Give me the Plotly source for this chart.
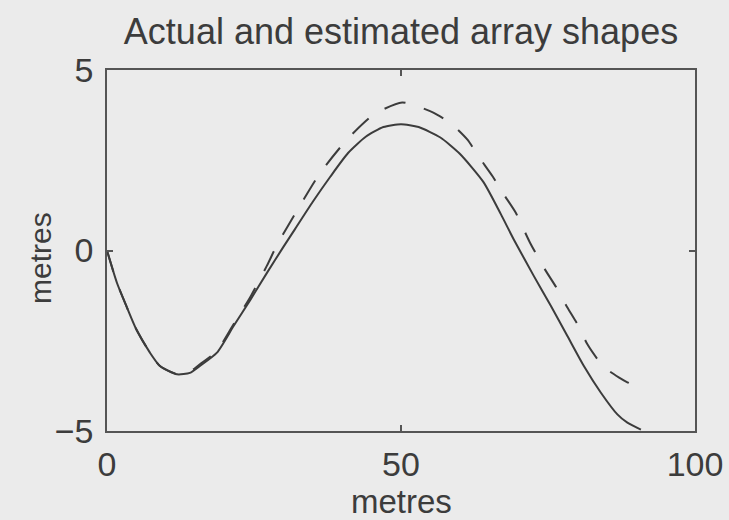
import plotly.graph_objects as go

# Actual array shape (solid)
actual_x = [0, 1.7, 3.3, 5, 7.3, 9, 11.9, 14.1, 15.8, 18.7, 21.5, 24.4, 27.2, 30, 32, 35, 38, 41,
            44, 47, 50, 53, 56.7, 60, 64, 67, 69.2, 72.6, 75.5, 78.3, 81.1, 84, 86.8, 88.5, 90.8]
actual_y = [0, -0.9, -1.54, -2.19, -2.83, -3.2, -3.43, -3.39, -3.2, -2.83, -2.1, -1.36, -0.62, 0.1,
            0.6, 1.35, 2.05, 2.7, 3.15, 3.42, 3.5, 3.42, 3.13, 2.68, 1.9, 1.0, 0.3, -0.71, -1.54,
            -2.37, -3.2, -3.94, -4.54, -4.77, -4.96]

# Estimated array shape (dashed)
est_x = [0, 1.7, 3.3, 5, 7.3, 9, 11.9, 14.1, 15.8, 18.7, 21.5, 24.4, 27.2, 28.9, 32.3, 36.3, 40.8,
         45.4, 50.2, 55.5, 58.7, 61.3, 63.3, 65.6, 67.5, 69.5, 71.9, 74.5, 76.4, 78.3, 80.2, 81.7,
         83.7, 85.5, 87.1, 88.5, 90.2]
est_y = [0, -0.9, -1.54, -2.19, -2.83, -3.2, -3.42, -3.36, -3.15, -2.78, -2.05, -1.28, -0.42, 0.15,
         1.1, 2.16, 3.07, 3.77, 4.1, 3.82, 3.49, 3.07, 2.58, 2.05, 1.55, 1.05, 0.23, -0.53, -1.02,
         -1.58, -2.1, -2.6, -3.07, -3.35, -3.52, -3.65, -3.77]

x_ticks = [0, 50, 100]
y_ticks = [-5, 0, 5]
y_tick_text = ["\u22125", "0", "5"]

title_text = "Actual and estimated array shapes"
x_label = "metres"
y_label = "metres"

ink = "#3c3c3c"
bg = "#ebebeb"
font_family = "Liberation Sans, Arial, Helvetica, sans-serif"

fig = go.Figure()
fig.add_trace(go.Scatter(x=actual_x, y=actual_y, mode="lines",
                         line=dict(color=ink, width=2, shape="spline", smoothing=0.6),
                         showlegend=False))
fig.add_trace(go.Scatter(x=est_x, y=est_y, mode="lines",
                         line=dict(color=ink, width=2, dash="22px,19px", shape="spline",
                                   smoothing=0.6),
                         showlegend=False))

axis_common = dict(showgrid=False, zeroline=False, showline=True, linecolor="#555555",
                   linewidth=1.5, mirror="ticks", ticks="inside", ticklen=6, tickwidth=1.5,
                   tickcolor="#555555", automargin=False,
                   tickfont=dict(family=font_family, size=34, color=ink))

fig.update_layout(
    width=729, height=520,
    margin=dict(l=107, r=34, t=70, b=89),
    paper_bgcolor=bg, plot_bgcolor=bg,
    title=dict(text=title_text, x=0.5, xref="paper", y=1 - 31 / 520, yref="container",
               xanchor="center", yanchor="middle", automargin=False,
               font=dict(family=font_family, size=36, color=ink)),
    xaxis=dict(range=[0, 100], tickvals=x_ticks, ticktext=[str(v) for v in x_ticks],
               ticklabelstandoff=2, **axis_common),
    yaxis=dict(range=[-5, 5], tickvals=y_ticks, ticktext=y_tick_text, ticklabelstandoff=5,
               **axis_common),
    annotations=[
        dict(text=x_label, xref="paper", yref="paper", x=0.5, y=-(501 - 431) / 361,
             xanchor="center", yanchor="middle", showarrow=False,
             font=dict(family=font_family, size=33, color=ink)),
        dict(text=y_label, xref="paper", yref="paper", x=(40 - 107) / 588, y=(431 - 258) / 361,
             xanchor="center", yanchor="middle", textangle=-90, showarrow=False,
             font=dict(family=font_family, size=30, color=ink)),
    ],
)

fig.write_html("out.html")
